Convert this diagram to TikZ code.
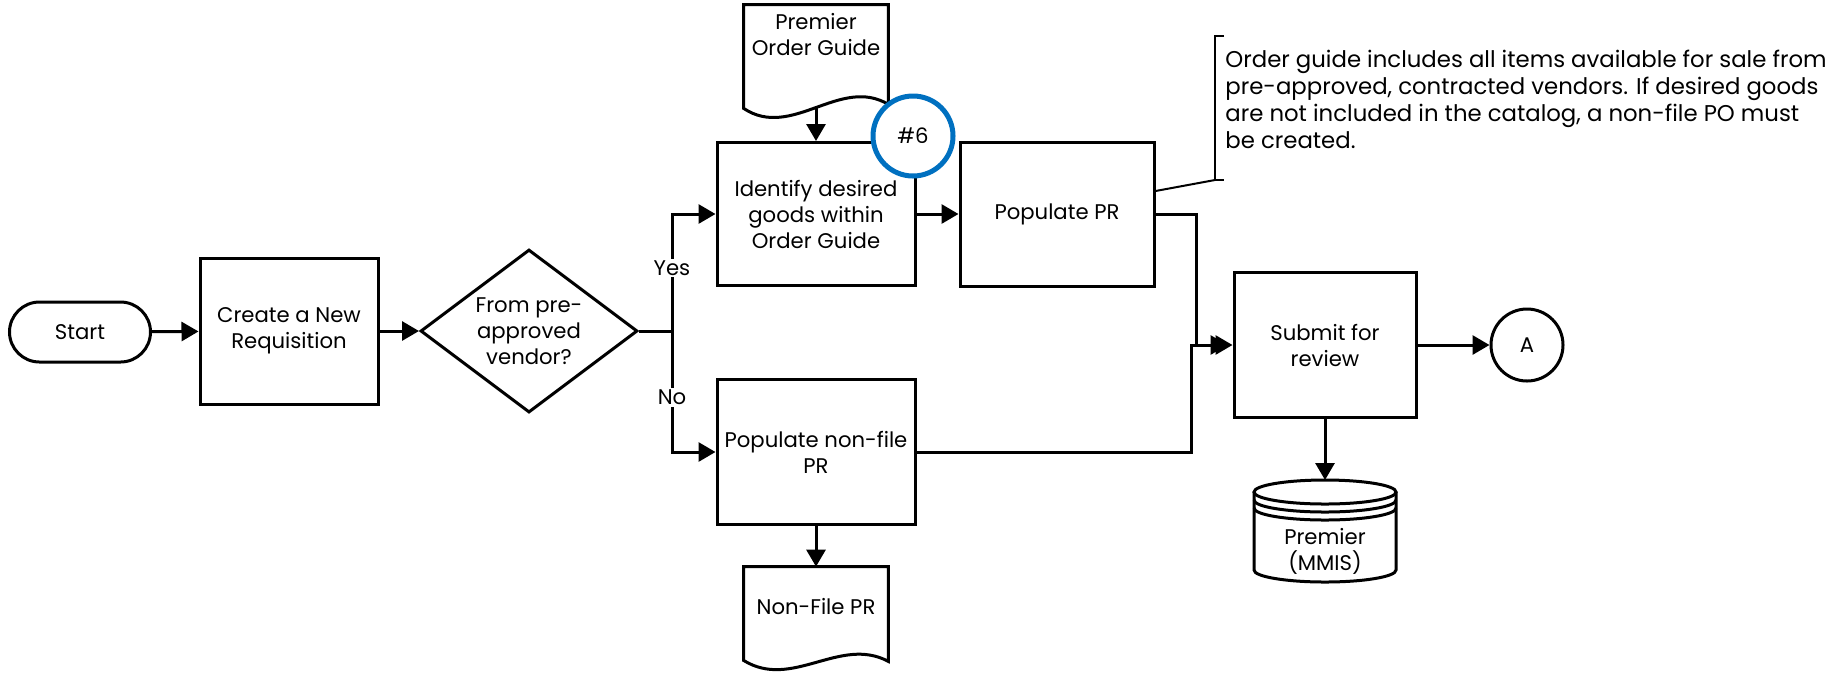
\documentclass[tikz,border=0pt]{standalone}
\usepackage{fontspec}
\setmainfont{Poppins}
\usetikzlibrary{arrows.meta,shapes.geometric,calc}

\tikzset{
  base/.style={font=\fontsize{10.6}{13}\selectfont, align=center},
  line/.style={line width=1.5pt},
  flow/.style={line width=1.5pt, -{Triangle[length=8.5pt,width=9.5pt]}},
  proc/.style={base, draw, line width=1.5pt, inner sep=2pt},
  term/.style={proc, rounded corners=15pt, minimum width=70.5pt, minimum height=30pt},
  decide/.style={base, draw, line width=1.5pt, diamond, aspect=1.33, inner sep=0pt,
    minimum width=108.5pt, minimum height=81.5pt},
  docu/.style={base, minimum width=72pt, inner sep=0pt},
  conn/.style={base, draw, circle, line width=1.5pt, minimum size=36pt, inner sep=0pt},
  badge/.style={base, draw=blue6, fill=white, circle, line width=2.5pt, minimum size=40pt, inner sep=0pt},
  tag/.style={base, fill=white, inner sep=1pt}
}
\definecolor{blue6}{HTML}{0070C0}

\begin{document}
\begin{tikzpicture}[x=0.5pt,y=-0.5pt]
  \useasboundingbox (0,0) rectangle (1841,677);

  % main line
  \node[term] (start) at (80,332) {Start};
  \node[proc, minimum width=89pt, minimum height=73pt] (create) at (289,331) {Create a New\\Requisition};
  \node[decide] (vendor) at (529,331) {From pre-\\approved\\vendor?};
  \coordinate (split) at (672,331);

  % upper branch
  \node[proc, minimum width=99pt, minimum height=71.5pt] (ident) at (816,214) {Identify desired\\goods within\\Order Guide};
  \node[proc, minimum width=97pt, minimum height=72pt] (ppr) at (1057,214) {Populate PR};
  \node[docu, minimum height=30pt] (pog) at (816,35) {Premier\\Order Guide};
  \draw[line] (pog.north west) -- (pog.north east) -- ($(pog.south east)+(0,39)$)
    .. controls ($(pog.south)+(24,10)$) and ($(pog.south)+(-24,75)$) .. ($(pog.south west)+(0,43)$) -- cycle;
  \node[badge] (six) at (913,136) {\#6};

  % lower branch
  \node[proc, minimum width=99pt, minimum height=72.5pt] (npr) at (816,452) {Populate non-file\\PR};
  \node[docu, minimum height=40pt] (nfpr) at (816,607) {Non-File PR};
  \draw[line] (nfpr.north west) -- (nfpr.north east) -- ($(nfpr.south east)+(0,14)$)
    .. controls ($(nfpr.south)+(24,-12)$) and ($(nfpr.south)+(-24,43)$) .. ($(nfpr.south west)+(0,13)$) -- cycle;

  % review
  \node[proc, minimum width=91pt, minimum height=72.5pt] (submit) at (1325,345) {Submit for\\review};
  \node[conn] (A) at (1527,345) {A};
  \node[base, minimum width=71pt] (db) at (1325,551) {Premier\\(MMIS)};
  \draw[line] ($(db.center)+(-71,-59)$) -- ($(db.center)+(-71,19)$)
    arc[start angle=180, end angle=360, x radius=35.5pt, y radius=6pt] -- ($(db.center)+(71,-59)$);
  \draw[line] ($(db.center)+(0,-59)$) ellipse[x radius=35.5pt, y radius=6pt];
  \draw[line] ($(db.center)+(-71,-51)$) arc[start angle=180, end angle=360, x radius=35.5pt, y radius=6pt];
  \draw[line] ($(db.center)+(-71,-43)$) arc[start angle=180, end angle=360, x radius=35.5pt, y radius=6pt];

  % note
  \coordinate (bt) at (1215,36);
  \coordinate (bb) at (1215,180);
  \draw[line width=1pt] ($(bt)+(9,0)$) -- (bt) -- (bb) -- ($(bb)+(9,0)$);
  \draw[line width=1pt] ($(ppr.east)+(0,-23)$) -- (bb);
  \node[base, font=\fontsize{11.4}{13.5}\selectfont, align=left, anchor=north west, inner sep=0pt] (note) at (1225,50)
    {Order guide includes all items available for sale from\\
     pre-approved, contracted vendors. If desired goods\\
     are not included in the catalog, a non-file PO must\\
     be created.};

  % connectors
  \draw[flow] (start) -- (create);
  \draw[flow] (create) -- (vendor);
  \draw[line] (vendor.east) -- (split);
  \draw[flow] (split) |- (ident);
  \draw[flow] (split) |- (npr);
  \node[tag] at (672,268) {Yes};
  \node[tag] at (672,397) {No};
  \draw[flow] ($(pog.south)+(0,42)$) -- (ident.north);
  \draw[flow] (ident) -- (ppr);
  \draw[flow] (npr) -- (nfpr);
  \draw[flow] (ppr.east) -- ++(41,0) |- (submit.west);
  \draw[flow, shorten >=2.5pt] (npr.east) -- ++(275,0) |- (submit.west);
  \draw[flow] (submit) -- (A);
  \draw[flow] (submit.south) -- ($(db.center)+(0,-71)$);
\end{tikzpicture}
\end{document}
